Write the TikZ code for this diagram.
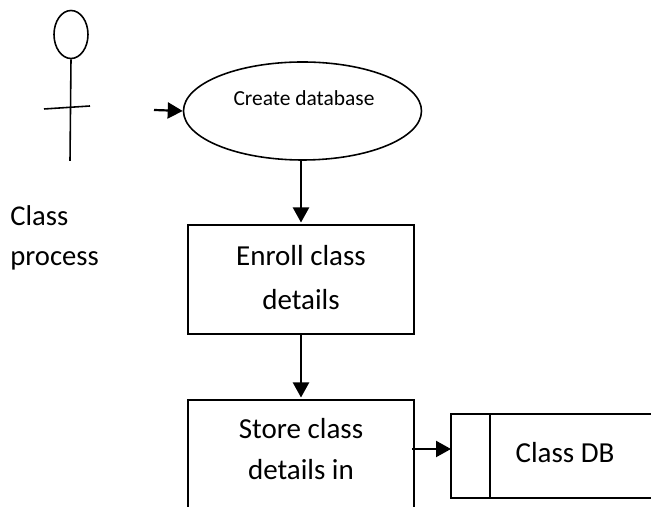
\documentclass[tikz,border=0pt]{standalone}
\usepackage{fontspec}
\setmainfont{Carlito}
\usetikzlibrary{arrows.meta,shapes.geometric}
\tikzset{
  flow/.style={line width=1.25pt,-{Triangle[length=0.3cm,width=0.32cm]}},
  stroke/.style={line width=0.9pt},
  box/.style={rectangle,stroke,draw=black,inner sep=0pt,outer sep=0pt},
  txt/.style={align=center,inner sep=0pt,font=\fontsize{16.5}{25}\selectfont}
}
\begin{document}
\begin{tikzpicture}
\useasboundingbox (0,0) rectangle (13.02,10.14);
\node[ellipse,stroke,draw=black,minimum width=0.68cm,minimum height=0.96cm,inner sep=0pt] (head) at (1.42,9.45) {};
\coordinate (foot) at (1.40,6.92);
\coordinate (armleft) at (0.88,7.96);
\coordinate (armright) at (1.80,8.02);
\draw[stroke] (head.south) -- (foot);
\draw[stroke] (armleft) -- (armright);
\node[txt,align=left,anchor=west,font=\fontsize{16.3}{22.7}\selectfont] (actor) at (0.20,5.38) {Class\\process};

\node[ellipse,stroke,draw=black,minimum width=4.76cm,minimum height=1.96cm,inner sep=0pt] (create) at (6.05,7.92) {};
\node[inner sep=0pt,font=\fontsize{12.2}{14}\selectfont] (createtext) at (6.08,8.18) {Create database};
\coordinate (start) at (3.08,7.94);
\draw[flow] (start) -- (create.west);

\node[box,minimum width=4.52cm,minimum height=2.18cm] (enroll) at (6.02,4.55) {};
\node[txt] (enrolltext) at (6.02,4.58) {Enroll class\\details};
\node[box,anchor=north,minimum width=4.52cm,minimum height=2.6cm] (store) at (6.02,2.14) {};
\node[txt,font=\fontsize{16.5}{23.3}\selectfont] (storetext) at (6.02,1.16) {Store class\\details in};

\node[box,anchor=north west,minimum width=0.78cm,minimum height=1.68cm] (dbtab) at (9.02,1.86) {};
\node[box,anchor=north west,minimum width=3.6cm,minimum height=1.68cm] (db) at (dbtab.north east) {};
\node[txt] (dbtext) at (11.30,1.08) {Class DB};

\draw[flow,shorten >=0.05cm] (enroll.north |- create.south) -- (enroll.north);
\draw[flow,shorten >=0.05cm] (enroll.south) -- (store.north);
\coordinate (storeout) at (8.24,1.16);
\draw[flow] (storeout) -- (dbtab.west |- storeout);
\end{tikzpicture}
\end{document}
